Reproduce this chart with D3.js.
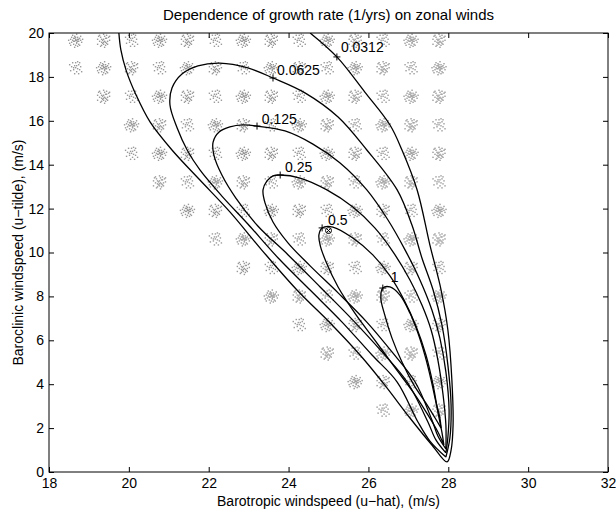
<!DOCTYPE html>
<html><head><meta charset="utf-8">
<script src="https://cdn.jsdelivr.net/npm/d3@7"></script>
<style>
body{margin:0;background:#fff}
svg{display:block}
text{font-family:"Liberation Sans",Arial,Helvetica,sans-serif;fill:#000}
</style>
</head><body>
<svg id="chart" width="616" height="512"></svg>
<script>
// ---------- data ----------
const xTicks = [18, 20, 22, 24, 26, 28, 30, 32];
const yTicks = [0, 2, 4, 6, 8, 10, 12, 14, 16, 18, 20];
const levels = ["0.0312", "0.0625", "0.125", "0.25", "0.5", "1"];

const c0312 = [[19.75,20.0],[19.80,19.23],[19.93,18.31],[20.18,17.18],[20.53,15.95],[21.08,14.67],[21.78,13.30],[22.53,11.85],[23.33,10.11],[24.21,8.29],[25.09,6.70],[25.79,5.33],[26.41,3.96],[27.04,2.46],[27.59,1.23],[27.97,0.46],
  [28.07,1.00],[28.12,2.14],[28.09,4.19],[27.99,6.47],[27.82,8.29],[27.54,10.34],[27.22,12.85],[26.84,14.67],[26.54,15.81],[25.91,17.31],[25.21,18.91],[24.54,20.0]];
const c0625 = [[27.94,0.68],[27.54,1.41],[27.24,2.28],[26.72,4.10],[26.09,5.33],[25.34,6.83],[24.54,8.29],[23.74,9.75],[22.98,11.30],[22.33,12.57],[21.78,13.76],[21.46,14.67],[21.21,15.67],[21.03,16.72],[21.08,17.49],[21.33,18.13],[21.73,18.50],[22.28,18.63],[22.98,18.41],[23.61,17.95],
  [24.41,17.27],[25.24,16.17],[25.96,14.67],[26.72,12.85],[27.09,11.25],[27.34,9.75],[27.62,8.29],[27.84,6.70],[27.99,4.87],[28.07,3.05],[28.04,1.55],[27.94,0.68]];
const c125 = [[27.94,0.87],[27.69,1.46],[27.49,2.28],[26.97,4.10],[26.34,5.47],[25.61,6.92],[24.79,8.43],[23.99,9.89],[23.23,11.21],[22.68,12.48],[22.33,13.53],[22.13,14.44],[22.11,15.03],[22.26,15.49],[22.53,15.72],[22.86,15.81],[23.21,15.76],
  [23.91,15.54],[24.61,14.94],[25.29,14.08],[25.96,12.85],[26.49,11.48],[26.92,10.11],[27.29,8.75],[27.59,7.38],[27.79,6.10],[27.94,4.56],[28.02,2.82],[27.99,1.59],[27.94,0.87]];
const c25 = [[27.94,1.05],[27.74,1.64],[27.59,2.37],[27.17,4.10],[26.59,5.47],[25.96,6.83],[25.24,8.16],[24.54,9.39],[23.99,10.43],[23.61,11.39],[23.41,12.26],[23.36,12.85],[23.46,13.26],[23.61,13.49],[23.79,13.53],
  [24.29,13.39],[24.96,12.85],[25.61,12.07],[26.16,11.12],[26.62,10.02],[27.04,8.75],[27.34,7.61],[27.57,6.47],[27.74,5.10],[27.87,3.51],[27.94,2.14],[27.94,1.05]];
const c5 = [[27.89,1.23],[27.74,1.82],[27.49,2.60],[27.12,3.64],[26.67,4.74],[26.16,6.01],[25.66,7.24],[25.24,8.43],[24.94,9.57],[24.79,10.34],[24.76,10.80],[24.84,11.12],
  [25.11,11.16],[25.61,10.66],[26.11,9.89],[26.54,8.93],[26.89,7.84],[27.19,6.65],[27.44,5.33],[27.62,3.96],[27.74,2.73],[27.84,1.82],[27.89,1.23]];
const c1 = [[27.82,2.00],[27.67,2.46],[27.44,3.14],[27.14,3.96],[26.84,5.01],[26.59,6.10],[26.41,7.15],[26.31,7.93],[26.36,8.38],
  [26.54,8.43],[26.79,8.06],[27.04,7.24],[27.24,6.33],[27.42,5.28],[27.57,4.19],[27.69,3.19],[27.79,2.46],[27.82,2.00]];

const labelMark = [[25.21,18.91],[23.61,17.95],[23.21,15.76],[23.79,13.53],[24.84,11.12],[26.36,8.38]];
const labelText = [[25.31,19.13],[23.71,18.09],[23.33,15.85],[23.91,13.67],[24.99,11.25],[26.56,8.66]];
const observed = [[25.0, 11.0]];

const clusterRowY = [19.7, 18.45, 17.15, 15.85, 14.55, 13.25, 11.95, 10.65, 9.35, 8.05, 6.75, 5.45, 4.15, 2.85];
const clusterRowX = [
  [18.65,19.35,20.05,20.75,21.45,22.15,22.85,23.55,24.25,24.95,25.65,26.35,27.05,27.75],
  [18.65,19.35,20.05,20.75,21.45,22.15,22.85,23.55,24.25,24.95,25.65,26.35,27.05,27.75],
  [19.35,20.05,20.75,21.45,22.15,22.85,23.55,24.25,24.95,25.65,26.35,27.05,27.75],
  [20.05,20.75,21.45,22.15,22.85,23.55,24.25,24.95,25.65,26.35,27.05,27.75],
  [20.05,20.75,21.45,22.15,22.85,23.55,24.25,24.95,25.65,26.35,27.05,27.75],
  [20.75,21.45,22.15,22.85,23.55,24.25,24.95,25.65,26.35,27.05,27.75],
  [21.45,22.15,22.85,23.55,24.25,24.95,25.65,26.35,27.05,27.75],
  [22.15,22.85,23.55,24.25,24.95,25.65,26.35,27.05,27.75],
  [22.85,23.55,24.25,24.95,25.65,26.35,27.05,27.75],
  [23.55,24.25,24.95,25.65,26.35,27.05,27.75],
  [24.25,24.95,25.65,26.35,27.05,27.75],
  [24.95,25.65,26.35,27.05,27.75],
  [25.65,26.35,27.05,27.75],
  [26.35,27.05,27.75]
];

const titleText = "Dependence of growth rate (1/yrs) on zonal winds";
const xLabel = "Barotropic windspeed (u\u2212hat), (m/s)";
const yLabel = "Baroclinic windspeed (u\u2212tilde), (m/s)";

// ---------- drawing ----------
const svg = d3.select("#chart");
const L = 49, R = 608, T = 33, B = 472;
const x = d3.scaleLinear().domain([18, 32]).range([L, R]);
const y = d3.scaleLinear().domain([0, 20]).range([B, T]);

svg.append("defs").append("clipPath").attr("id", "clip")
  .append("rect").attr("x", L).attr("y", T).attr("width", R - L).attr("height", B - T);

// speckle glyphs (marker shapes) for the gray sample clusters
const glyphs = [
  [[0,0],[1,0],[-1,1],[2,-1],[-2,-2],[1,2],[3,1],[-3,0],[0,-3],[2,-3],[-1,-4],[4,-2],[-4,2],[3,4],[-2,4],[0,5],[5,0],[-5,-1],[1,-6],[-3,-5],[4,5],[-4,-3],[6,2],[-6,3],[2,6],[-1,7],[5,-4],[-5,5],[0,-1],[1,3],[-2,1],[3,-1],[-1,-2],[2,1],[7,-1],[-7,0]],
  [[0,-1],[-1,0],[1,1],[2,2],[-2,-1],[-1,3],[3,-2],[0,4],[-3,-3],[4,1],[-4,1],[1,-4],[2,5],[-2,5],[5,-3],[-5,-4],[3,-5],[-3,6],[6,0],[-6,-1],[0,-6],[4,4],[-4,-5],[1,7],[6,-4],[-6,4],[2,-2],[-2,2],[0,2],[3,3]],
  [[0,0],[2,1],[-1,-2],[-2,2],[3,-3],[1,4],[-4,-1],[4,2],[-3,-5],[0,-5],[5,-1],[-5,3],[2,-6],[3,6],[-1,6],[6,4],[-6,-3],[1,-2],[-2,0],[4,-5]]
];
const clusters = [];
clusterRowY.forEach((yy, i) => clusterRowX[i].forEach((xx, j) => clusters.push({x: xx, y: yy, g: (i * 2 + j) % 3})));

const gSpk = svg.append("g").attr("clip-path", "url(#clip)");
clusters.forEach(c => {
  const cx = x(c.x), cy = y(c.y);
  gSpk.selectAll(null).data(glyphs[c.g]).enter().append("rect")
    .attr("x", d => cx + d[0]).attr("y", d => cy + d[1])
    .attr("width", 1.4).attr("height", 1.4)
    .attr("fill", "#9a9a9a");
});

// contours
const line = d3.line().x(d => x(d[0])).y(d => y(d[1])).curve(d3.curveCatmullRom.alpha(0.5));
const gC = svg.append("g").attr("clip-path", "url(#clip)");
[c0312, c0625, c125, c25, c5, c1].forEach(c => {
  gC.append("path").attr("d", line(c)).attr("fill", "none").attr("stroke", "#000").attr("stroke-width", 1.3);
});

// labels with + markers
labelMark.forEach((m, i) => {
  const mx = x(m[0]), my = y(m[1]);
  svg.append("path").attr("d", `M${mx-3.5},${my}H${mx+3.5}M${mx},${my-3.5}V${my+3.5}`)
    .attr("stroke", "#000").attr("stroke-width", 1);
  svg.append("text").attr("x", x(labelText[i][0])).attr("y", y(labelText[i][1]))
    .attr("font-size", 14).text(levels[i]);
});
observed.forEach(o => {
  const ox = x(o[0]), oy = y(o[1]);
  svg.append("circle").attr("cx", ox).attr("cy", oy).attr("r", 3).attr("fill", "none").attr("stroke", "#000").attr("stroke-width", 1);
  svg.append("path").attr("d", `M${ox-2},${oy-2}L${ox+2},${oy+2}M${ox-2},${oy+2}L${ox+2},${oy-2}`).attr("stroke", "#000").attr("stroke-width", 1);
});

// axes (box with inward ticks)
const ax = (g, axis) => { g.call(axis); g.select(".domain").remove(); g.selectAll("text").attr("font-size", 14).attr("font-family", null).attr("fill", "#000"); g.selectAll("line").attr("stroke", "#000"); };
svg.append("g").attr("transform", `translate(0,${B})`).call(g => ax(g, d3.axisBottom(x).tickValues(xTicks).tickSizeInner(-5).tickSizeOuter(0).tickPadding(6).tickFormat(d3.format("d"))));
svg.append("g").attr("transform", `translate(0,${T})`).call(g => ax(g, d3.axisTop(x).tickValues(xTicks).tickSizeInner(-5).tickSizeOuter(0).tickFormat("")));
svg.append("g").attr("transform", `translate(${L},0)`).call(g => ax(g, d3.axisLeft(y).tickValues(yTicks).tickSizeInner(-5).tickSizeOuter(0).tickPadding(5).tickFormat(d3.format("d"))));
svg.append("g").attr("transform", `translate(${R},0)`).call(g => ax(g, d3.axisRight(y).tickValues(yTicks).tickSizeInner(-5).tickSizeOuter(0).tickFormat("")));
svg.append("rect").attr("x", L).attr("y", T).attr("width", R - L).attr("height", B - T)
  .attr("fill", "none").attr("stroke", "#000").attr("stroke-width", 1);

svg.append("text").attr("x", (L + R) / 2).attr("y", 20).attr("text-anchor", "middle").attr("font-size", 15).text(titleText);
svg.append("text").attr("x", (L + R) / 2).attr("y", 506).attr("text-anchor", "middle").attr("font-size", 14).text(xLabel);
svg.append("text").attr("transform", `translate(23,${(T + B) / 2}) rotate(-90)`).attr("text-anchor", "middle").attr("font-size", 14).text(yLabel);
</script>
</body></html>
